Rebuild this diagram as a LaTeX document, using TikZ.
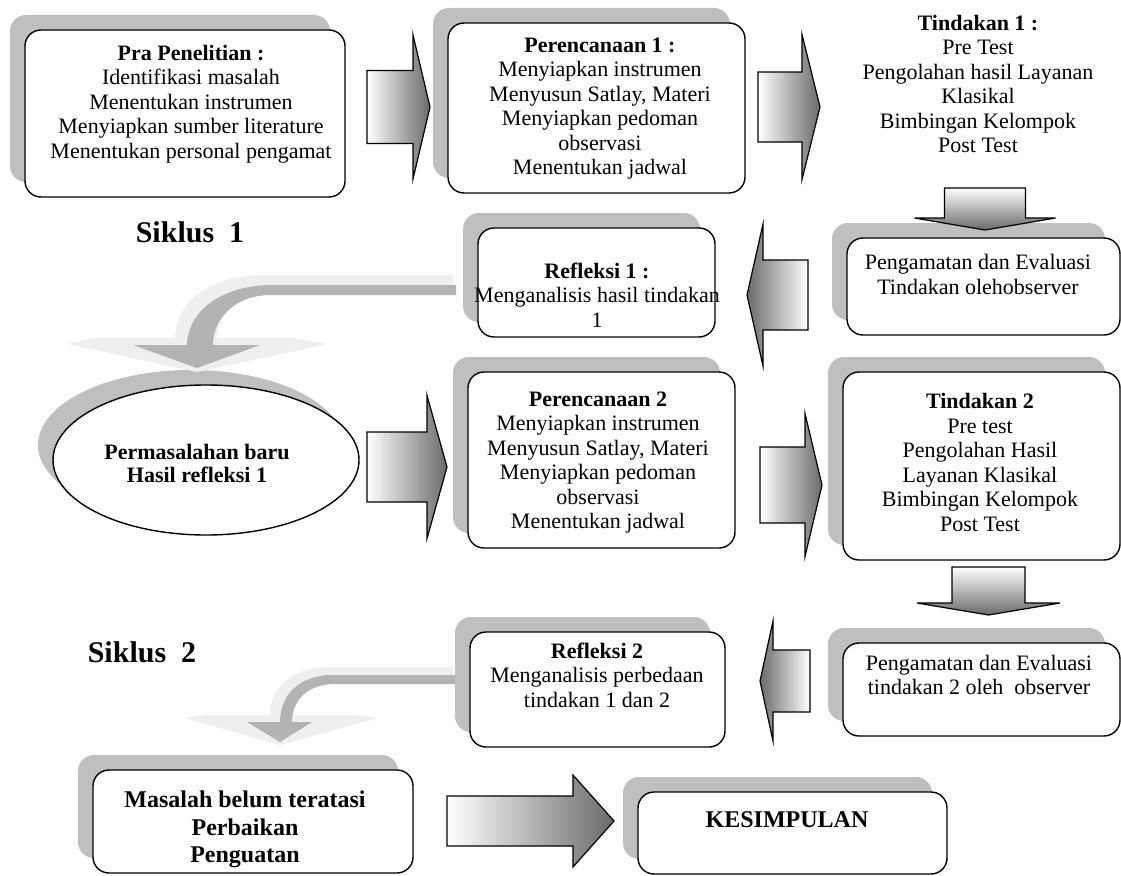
\documentclass[tikz,border=0pt]{standalone}
\usepackage{fontspec}
\setmainfont{Liberation Serif}
\usetikzlibrary{shadows,shapes.geometric}
\definecolor{shadowgray}{HTML}{BFBFBF}
\definecolor{arrowdark}{HTML}{6A6A6A}
\definecolor{curvelight}{HTML}{EFEFEF}
\definecolor{curvegray}{HTML}{B3B3B3}
% right block arrow: x start, x head base, x tip, y centre, body half, head half
\newcommand\RArr[6]{\shadedraw[blockarrow, left color=white, right color=arrowdark]
  ({#1},{#4-#5}) -- ({#2},{#4-#5}) -- ({#2},{#4-#6}) -- ({#3},{#4}) -- ({#2},{#4+#6}) -- ({#2},{#4+#5}) -- ({#1},{#4+#5}) -- cycle;}
% left block arrow: x tip, x head base, x end, y centre, body half, head half
\newcommand\LArr[6]{\shadedraw[blockarrow, left color=arrowdark, right color=white]
  ({#1},{#4}) -- ({#2},{#4-#6}) -- ({#2},{#4-#5}) -- ({#3},{#4-#5}) -- ({#3},{#4+#5}) -- ({#2},{#4+#5}) -- ({#2},{#4+#6}) -- cycle;}
% down block arrow: x centre, y top, y head base, y tip, body half, head half
\newcommand\DArr[6]{\shadedraw[blockarrow, top color=white, bottom color=arrowdark]
  ({#1-#5},{#2}) -- ({#1+#5},{#2}) -- ({#1+#5},{#3}) -- ({#1+#6},{#3}) -- ({#1},{#4}) -- ({#1-#6},{#3}) -- ({#1-#5},{#3}) -- cycle;}
\begin{document}
\begin{tikzpicture}[x=1pt,y=-1pt,
  box/.style={draw, line width=1.4pt, rounded corners=16pt, fill=white, inner sep=0pt, outer sep=0pt,
    drop shadow={shadow xshift=-15pt, shadow yshift=15pt, opacity=1, fill=shadowgray}},
  oval/.style={ellipse, draw, line width=1.4pt, fill=white, inner sep=0pt, outer sep=0pt,
    drop shadow={shadow xshift=-15pt, shadow yshift=15pt, opacity=1, fill=shadowgray}},
  txt/.style={align=center, font=\fontsize{22}{24.5}\selectfont, inner sep=0pt},
  boldtxt/.style={align=center, font=\fontsize{22}{23.5}\selectfont\bfseries, inner sep=0pt},
  bigtxt/.style={align=center, font=\fontsize{24}{27.5}\selectfont\bfseries, inner sep=0pt},
  cyctxt/.style={font=\fontsize{30}{33}\selectfont\bfseries, inner sep=0pt},
  blockarrow/.style={draw, line width=1.2pt, line join=miter}]
\useasboundingbox (0,0) rectangle (1121,875);

% boxes
\node[box, minimum width=320pt, minimum height=167pt] (pra) at (185,113.5) {};
\node[box, minimum width=297pt, minimum height=170pt] (per1) at (596.5,108) {};
\node[box, minimum width=273pt, minimum height=97pt] (peng1) at (983.5,286.5) {};
\node[box, minimum width=237pt, minimum height=109pt] (ref1) at (596.5,282.5) {};
\node[oval, minimum width=306pt, minimum height=150pt] (ell) at (206,460) {};
\node[box, minimum width=267pt, minimum height=176pt] (per2) at (601.5,460) {};
\node[box, minimum width=277pt, minimum height=188pt] (tin2) at (981.5,466) {};
\node[box, minimum width=277pt, minimum height=93pt] (peng2) at (981.5,689.5) {};
\node[box, minimum width=255pt, minimum height=115pt] (ref2) at (597.5,689.5) {};
\node[box, minimum width=320pt, minimum height=103pt] (masalah) at (253,821.5) {};
\node[box, minimum width=309pt, minimum height=82pt] (kes) at (792.5,833) {};

% block arrows
\RArr{367}{413}{430}{107}{36.5}{72}
\RArr{758}{802}{820}{107}{35}{72.5}
\DArr{985}{188}{218}{230}{40.5}{70.5}
\LArr{747}{763}{808}{295}{35}{71}
\RArr{367}{427}{447}{467}{35}{71.5}
\RArr{760}{805}{822}{485}{38}{71.5}
\DArr{988.5}{567}{603}{615}{36.5}{71.5}
\LArr{760}{773}{810}{681}{31}{60}
\RArr{447}{573}{614}{821}{25}{46}

% curved arrow 1 (Refleksi 1 -> Permasalahan baru)
\fill[curvelight] (453,275) -- (265,275) .. controls (212,275) and (176,300) .. (175,338)
  -- (93,338) -- (67,344) -- (197,372) -- (328,344) -- (293,338) -- (217,338)
  .. controls (218,312) and (240,295) .. (268,295) -- (453,295) -- cycle;
\fill[curvegray] (456,285) -- (272,285) .. controls (226,285) and (188,308) .. (187,345)
  -- (133,345) -- (197,368) -- (260,345) -- (213,345)
  .. controls (213,316) and (238,295) .. (270,295) -- (456,295) -- cycle;

% curved arrow 2 (Refleksi 2 -> Masalah belum teratasi)
\fill[curvelight] (453,667) -- (330,667) .. controls (292,667) and (270,688) .. (270,715)
  -- (205,715) -- (185,718) -- (280,745) -- (378,718) -- (355,715) -- (293,715)
  .. controls (294,697) and (308,683) .. (335,683) -- (453,683) -- cycle;
\fill[curvegray] (455,675) -- (333,675) .. controls (300,675) and (280,694) .. (280,722)
  -- (247,722) -- (280,742) -- (312,722) -- (292,722)
  .. controls (292,700) and (308,684) .. (335,684) -- (455,684) -- cycle;

% texts
\node[txt] (pratxt) at (191,104) {\textbf{Pra Penelitian :}\\Identifikasi masalah\\Menentukan instrumen\\Menyiapkan sumber literature\\Menentukan personal pengamat};
\node[txt] (per1txt) at (600,108.5) {\textbf{Perencanaan 1 :}\\Menyiapkan instrumen\\Menyusun Satlay, Materi\\Menyiapkan pedoman\\observasi\\Menentukan jadwal};
\node[txt] (tin1txt) at (978,84) {\textbf{Tindakan 1 :}\\Pre Test\\Pengolahan hasil Layanan\\Klasikal\\Bimbingan Kelompok\\Post Test};
\node[txt] (peng1txt) at (978,274.5) {Pengamatan dan Evaluasi\\Tindakan olehobserver};
\node[txt] (ref1txt) at (597,295) {\textbf{Refleksi 1 :}\\Menganalisis hasil tindakan\\1};
\node[boldtxt] (elltxt) at (197,463.5) {Permasalahan baru\\Hasil refleksi 1};
\node[txt] (per2txt) at (598,462.5) {\textbf{Perencanaan 2}\\Menyiapkan instrumen\\Menyusun Satlay, Materi\\Menyiapkan pedoman\\observasi\\Menentukan jadwal};
\node[txt] (tin2txt) at (980,462.5) {\textbf{Tindakan 2}\\Pre test\\Pengolahan Hasil\\Layanan Klasikal\\Bimbingan Kelompok\\Post Test};
\node[txt] (peng2txt) at (979,675) {Pengamatan dan Evaluasi\\tindakan 2 oleh\ \ observer};
\node[txt] (ref2txt) at (597,675) {\textbf{Refleksi 2}\\Menganalisis perbedaan\\tindakan 1 dan 2};
\node[bigtxt] (masalahtxt) at (245,829.5) {Masalah belum teratasi\\Perbaikan\\Penguatan};
\node[bigtxt] (kestxt) at (787,820) {KESIMPULAN};
\node[cyctxt] (siklus1) at (190,232) {Siklus\ \ 1};
\node[cyctxt] (siklus2) at (142,652) {Siklus\ \ 2};
\end{tikzpicture}
\end{document}
